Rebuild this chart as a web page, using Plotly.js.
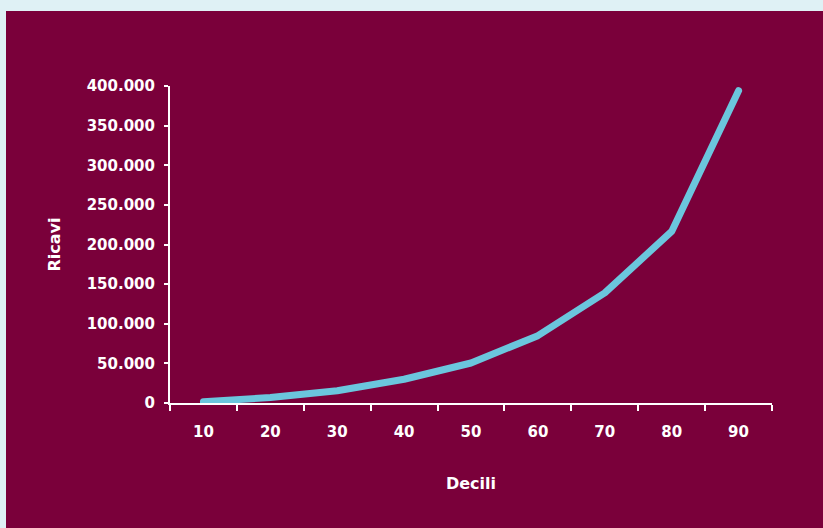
<!DOCTYPE html>
<html>
<head>
<meta charset="utf-8">
<script src="https://cdn.plot.ly/plotly-3.0.1.min.js"></script>
<style>
  html, body { margin: 0; padding: 0; background: #dff1f5; width: 823px; height: 528px; overflow: hidden; }
  #chart { position: absolute; left: 6px; top: 11px; width: 817px; height: 517px; }
  #chart .js-line { stroke-linecap: round; stroke-linejoin: round; }
</style>
</head>
<body>
<div id="chart"></div>
<script>
const categories = ["10", "20", "30", "40", "50", "60", "70", "80", "90"];
const ricavi = [1500, 7000, 15500, 30000, 50500, 85000, 139000, 216500, 394000];
const yTickVals = [0, 50000, 100000, 150000, 200000, 250000, 300000, 350000, 400000];
const yTickText = ["0", "50.000", "100.000", "150.000", "200.000", "250.000", "300.000", "350.000", "400.000"];

const fontFamily = "DejaVu Sans, sans-serif";

Plotly.newPlot("chart", [{
  x: categories,
  y: ricavi,
  type: "scatter",
  mode: "lines",
  line: { color: "#6bc6dd", width: 7 },
  hoverinfo: "skip"
}], {
  width: 817,
  height: 517,
  paper_bgcolor: "#7a003a",
  plot_bgcolor: "#7a003a",
  margin: { l: 164, r: 51, t: 75, b: 125, pad: 0 },
  showlegend: false,
  font: { family: fontFamily, color: "#ffffff", size: 15 },
  xaxis: {
    type: "category",
    range: [-0.5, 8.5],
    tickson: "boundaries",
    showline: true,
    linecolor: "#ffffff",
    linewidth: 2,
    ticks: "outside",
    ticklen: 6,
    tickwidth: 2,
    tickcolor: "#ffffff",
    showgrid: false,
    zeroline: false,
    ticklabelstandoff: 14,
    tickfont: { family: fontFamily, size: 15, color: "#ffffff", weight: "bold" },
    title: { text: "Decili", standoff: 38, font: { family: fontFamily, size: 16, color: "#ffffff", weight: "bold" } }
  },
  yaxis: {
    range: [0, 400000],
    tickvals: yTickVals,
    ticktext: yTickText,
    showline: true,
    linecolor: "#ffffff",
    linewidth: 2,
    ticks: "outside",
    ticklen: 4,
    tickwidth: 2,
    tickcolor: "#ffffff",
    showgrid: false,
    zeroline: false,
    ticklabelstandoff: 6,
    tickfont: { family: fontFamily, size: 15, color: "#ffffff", weight: "bold" },
    title: { text: "Ricavi", standoff: 22, font: { family: fontFamily, size: 16, color: "#ffffff", weight: "bold" } }
  }
}, { displayModeBar: false, staticPlot: true });
</script>
</body>
</html>
